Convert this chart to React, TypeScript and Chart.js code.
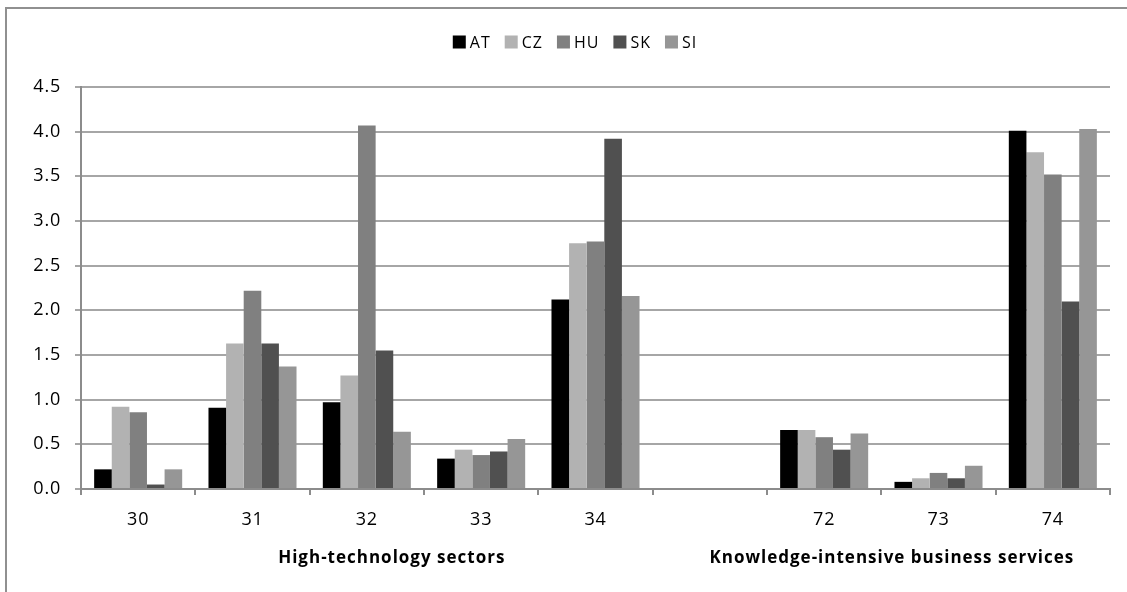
import React, { useEffect, useRef } from "react";
import { Chart, registerables } from "chart.js";

Chart.register(...registerables);

const categories = ["30", "31", "32", "33", "34", "", "72", "73", "74"];
const seriesNames = ["AT", "CZ", "HU", "SK", "SI"];
const AT = [0.22, 0.91, 0.97, 0.34, 2.12, null, 0.66, 0.08, 4.01];
const CZ = [0.92, 1.63, 1.27, 0.44, 2.75, null, 0.66, 0.12, 3.77];
const HU = [0.86, 2.22, 4.07, 0.38, 2.77, null, 0.58, 0.18, 3.52];
const SK = [0.05, 1.63, 1.55, 0.42, 3.92, null, 0.44, 0.12, 2.1];
const SI = [0.22, 1.37, 0.64, 0.56, 2.16, null, 0.62, 0.26, 4.03];
const seriesColors = ["#000000", "#b2b2b2", "#808080", "#505050", "#969696"];
const groupLabels = ["High-technology sectors", "Knowledge-intensive business services"];
const groupCenters = [0.302, 0.788];

const FONT = "'Open Sans', sans-serif";
const SPACING = "0.8px";

export default function App() {
  const ref = useRef<HTMLCanvasElement | null>(null);

  useEffect(() => {
    const canvas = ref.current;
    if (!canvas) return;
    const values = [AT, CZ, HU, SK, SI];

    const spacing = {
      id: "spacing",
      beforeUpdate(chart: any) {
        chart.ctx.letterSpacing = SPACING;
      },
      beforeDraw(chart: any) {
        chart.ctx.letterSpacing = SPACING;
      },
    };

    const extras = {
      id: "extras",
      afterDraw(chart: any) {
        const ctx = chart.ctx;
        const xs = chart.scales.x;
        ctx.save();
        // group labels
        ctx.letterSpacing = "1px";
        ctx.fillStyle = "#000";
        ctx.font = `bold 17px ${FONT}`;
        ctx.textAlign = "center";
        ctx.textBaseline = "middle";
        groupLabels.forEach((t, i) => {
          const x = xs.left + groupCenters[i] * (xs.right - xs.left);
          ctx.fillText(t, x, 558);
        });
        // legend
        ctx.letterSpacing = "1px";
        ctx.font = `16px ${FONT}`;
        ctx.textAlign = "left";
        const box = 13;
        const gap1 = 4;
        const gap2 = 14;
        const ds = chart.data.datasets;
        let total = 0;
        const widths = ds.map((d: any) => ctx.measureText(d.label).width);
        widths.forEach((w: number, i: number) => {
          total += box + gap1 + w + (i < ds.length - 1 ? gap2 : 0);
        });
        let x = 575 - total / 2;
        const cy = 42;
        ds.forEach((d: any, i: number) => {
          ctx.fillStyle = d.backgroundColor;
          ctx.fillRect(x, cy - box / 2, box, box);
          x += box + gap1;
          ctx.fillStyle = "#000";
          ctx.fillText(d.label, x, cy + 1);
          x += widths[i] + gap2;
        });
        ctx.restore();
      },
    };

    const chart = new Chart(canvas, {
      type: "bar",
      data: {
        labels: categories,
        datasets: seriesNames.map((n, i) => ({
          label: n,
          data: values[i],
          backgroundColor: seriesColors[i],
          borderWidth: 0,
          categoryPercentage: 0.77,
          barPercentage: 1,
        })),
      },
      options: {
        responsive: false,
        animation: false,
        layout: { padding: { top: 87, right: 17, bottom: 0, left: 0 } },
        plugins: {
          legend: { display: false },
          tooltip: { enabled: false },
        },
        scales: {
          x: {
            grid: {
              display: true,
              drawOnChartArea: false,
              drawTicks: true,
              tickLength: 6,
              color: "#8c8c8c",
              lineWidth: 2,
              offset: true,
            },
            border: { display: true, color: "#8c8c8c", width: 2 },
            ticks: {
              color: "#000",
              font: { family: FONT, size: 18 },
              padding: 14,
              maxRotation: 0,
              autoSkip: false,
            },
            afterFit(s: any) {
              s.height = 103;
            },
          },
          y: {
            min: 0,
            max: 4.5,
            grid: {
              color: "#a6a6a6",
              lineWidth: 2,
              tickLength: 6,
              drawTicks: true,
            },
            border: { display: true, color: "#8c8c8c", width: 2 },
            ticks: {
              stepSize: 0.5,
              color: "#000",
              font: { family: FONT, size: 18 },
              padding: 14,
              callback: (v: any) => Number(v).toFixed(1),
            },
            afterFit(s: any) {
              s.width = 81;
            },
          },
        },
      },
      plugins: [spacing, extras],
    });
    return () => chart.destroy();
  }, []);

  return (
    <div
      style={{
        position: "fixed",
        left: 0,
        top: 0,
        width: 1127,
        height: 592,
        overflow: "hidden",
        background: "#fff",
      }}
    >
      <div
        style={{
          position: "absolute",
          left: 5,
          top: 7,
          width: 1200,
          height: 700,
          border: "2px solid #909090",
        }}
      />
      <canvas
        ref={ref}
        width={1127}
        height={592}
        style={{ position: "absolute", left: 0, top: 0, width: 1127, height: 592 }}
      />
    </div>
  );
}
